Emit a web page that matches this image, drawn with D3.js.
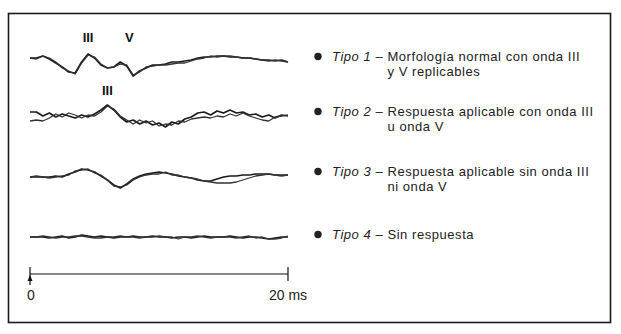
<!DOCTYPE html>
<html><head><meta charset="utf-8">
<script src="https://cdn.jsdelivr.net/npm/d3@7/dist/d3.min.js"></script>
<style>html,body{margin:0;padding:0;background:#fff}svg{display:block}</style>
</head><body>
<script>
// time grid (ms), sampled every 0.5 ms
const timeMs = d3.range(0, 20.001, 0.5);
const waveLabels = ["Tipo 1", "Tipo 2", "Tipo 3", "Tipo 4"];
const descriptions = [
  ["Morfología normal con onda III", "y V replicables"],
  ["Respuesta aplicable con onda III", "u onda V"],
  ["Respuesta aplicable sin onda III", "ni onda V"],
  ["Sin respuesta"]
];
// amplitudes (arbitrary units), two replicated traces per type
const tipo1a = [2,2,4,1,-3,-7,-12,-13,-2,6, 2,-5,-8,-7,-2,-6,-16,-11,-8,-5, -5,-4,-2,-2,-1,0,2,3,3,4, 4,3,3,2,2,1,0,0,-1,0, -2];
const tipo1b = [2,1,4,2,-2,-8,-11,-14,-3,5, 3,-4,-8,-7,-4,-5,-15,-12,-7,-6, -5,-5,-4,-3,-3,-1,1,2,4,3, 4,4,3,2,2,1,0,-1,0,-1, -2];
const tipo2a = [5,5,1,4,0,3,1,-1,2,0, 3,7,12,7,0,-5,-3,-7,-4,-8, -6,-10,-5,-7,-2,0,4,5,2,6, 4,7,4,5,2,3,0,2,-1,2, 1];
const tipo2b = [-4,-3,-4,-1,3,0,4,2,-1,2, 1,5,11,8,1,-3,-7,-3,-6,-4, -9,-7,-8,-4,-5,-2,-1,0,-1,1, 0,3,1,4,1,-1,-3,-4,0,1, 2];
const tipo3a = [0,0,0,0,1,0,3,5,8,7, 5,1,-3,-8,-11,-7,-2,1,3,4, 5,4,3,1,0,-1,-3,-4,-4,-2, 0,1,1,2,2,3,3,3,2,2, 2];
const tipo3b = [0,1,0,-1,0,1,2,6,7,8, 4,2,-3,-9,-10,-8,-3,0,2,3, 3,5,2,2,0,-1,-2,-4,-5,-6, -6,-6,-5,-3,-1,1,2,3,2,1, 2];
const tipo4a = [0,0,0,-1,0,1,-1,0,2,1, 0,1,0,-1,0,0,1,0,0,1, 0,0,-1,0,0,-1,0,1,0,0, 0,1,0,-1,0,0,-1,-2,-1,0, 0];
const tipo4b = [0,0,1,0,-1,0,0,1,1,0, -1,-1,0,0,1,0,0,-1,0,0, 1,0,0,-2,0,0,1,0,-1,0, 0,0,-1,0,1,-1,0,-2,-2,-1, 1];
const waveNames = [["III", 4.5], ["V", 7.7]];   // peak labels on Tipo 1 (label, ms)
const wave2Names = [["III", 6.0]];             // peak label on Tipo 2
const axisTicks = [0, 20];
const axisTickLabels = ["0", "20 ms"];

const traces = [[tipo1a, tipo1b], [tipo2a, tipo2b], [tipo3a, tipo3b], [tipo4a, tipo4b]];

const W = 621, H = 334;
const svg = d3.select("body").append("svg").attr("width", W).attr("height", H);
svg.append("rect").attr("x", 8.5).attr("y", 13.5).attr("width", 602).attr("height", 309)
  .attr("fill", "none").attr("stroke", "#1a1a1a").attr("stroke-width", 1.6);

const x = d3.scaleLinear().domain([0, 20]).range([30, 288]);
const rowCenters = [60, 117, 177, 237];
const font = "'Liberation Sans', Arial, Helvetica, sans-serif";

traces.forEach((pair, r) => {
  const y = d3.scaleLinear().domain([-10, 10]).range([rowCenters[r] + 10, rowCenters[r] - 10]);
  const line = d3.line().x((d, i) => x(timeMs[i])).y(d => y(d));
  pair.forEach((vals, k) => {
    svg.append("path").datum(vals).attr("d", line)
      .attr("fill", "none").attr("stroke", k === 0 ? "#1c1c1c" : "#333")
      .attr("stroke-width", k === 0 ? 1.7 : 1.3).attr("stroke-linejoin", "round");
  });
});

// peak labels
waveNames.forEach(([t, ms]) => {
  svg.append("text").attr("x", x(ms)).attr("y", 42).attr("text-anchor", "middle")
    .attr("font-family", font).attr("font-weight", "bold").attr("font-size", 13).attr("fill", "#111").text(t);
});
wave2Names.forEach(([t, ms]) => {
  svg.append("text").attr("x", x(ms)).attr("y", 95).attr("text-anchor", "middle")
    .attr("font-family", font).attr("font-weight", "bold").attr("font-size", 13).attr("fill", "#111").text(t);
});

// time axis
const axisY = 274;
const ax = svg.append("g").attr("stroke", "#111").attr("stroke-width", 1.2);
ax.append("line").attr("x1", x(0)).attr("x2", x(20)).attr("y1", axisY).attr("y2", axisY);
ax.append("line").attr("x1", x(20)).attr("x2", x(20)).attr("y1", axisY - 7).attr("y2", axisY + 7);
ax.append("line").attr("x1", x(0)).attr("x2", x(0)).attr("y1", axisY - 7).attr("y2", axisY + 11);
svg.append("path").attr("d", `M${x(0)},${axisY + 1}L${x(0) - 2.5},${axisY + 7}L${x(0) + 2.5},${axisY + 7}Z`)
  .attr("fill", "#111");
axisTicks.forEach((t, i) => {
  svg.append("text").attr("x", x(t) + (i === 0 ? 1 : 0)).attr("y", 300).attr("text-anchor", "middle")
    .attr("font-family", font).attr("font-size", 14).attr("fill", "#222").text(axisTickLabels[i]);
});

// legend
const fs = 13, lineGap = 15, ls = 0.55;
const baselines = [61, 116, 176, 239];
waveLabels.forEach((lab, i) => {
  const by = baselines[i];
  svg.append("circle").attr("cx", 318).attr("cy", by - 4.5).attr("r", 3.7).attr("fill", "#222");
  const t = svg.append("text").attr("x", 332).attr("y", by)
    .attr("font-family", font).attr("font-size", fs).attr("letter-spacing", ls).attr("fill", "#222");
  t.append("tspan").attr("font-style", "italic").text(lab);
  t.append("tspan").text(" – ");
  t.append("tspan").text(descriptions[i][0]);
  const descX = 332 + t.node().getSubStringLength(0, lab.length + 3);
  descriptions[i].slice(1).forEach((d, j) => {
    svg.append("text").attr("x", descX).attr("y", by + lineGap * (j + 1))
      .attr("font-family", font).attr("font-size", fs).attr("letter-spacing", ls).attr("fill", "#222").text(d);
  });
});
</script>
</body></html>
